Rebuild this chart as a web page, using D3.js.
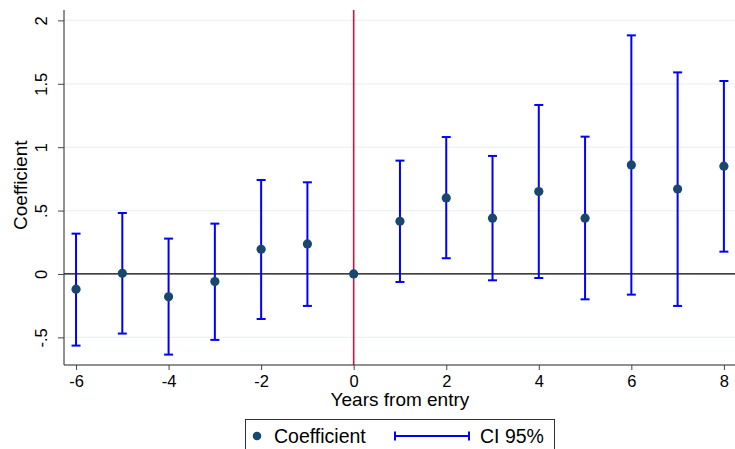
<!DOCTYPE html>
<html>
<head>
<meta charset="utf-8">
<script src="https://cdn.jsdelivr.net/npm/d3@7"></script>
<style>
  body { margin: 0; background: #fff; }
  svg { display: block; font-family: "Liberation Sans", Arial, sans-serif; }
</style>
</head>
<body>
<div id="chart"></div>
<script>
const years = [-6, -5, -4, -3, -2, -1, 0, 1, 2, 3, 4, 5, 6, 7, 8];
const coef = [-0.12, 0.005, -0.18, -0.06, 0.195, 0.237, 0, 0.415, 0.60, 0.44, 0.65, 0.44, 0.86, 0.67, 0.85];
const ciLow = [-0.565, -0.47, -0.636, -0.52, -0.355, -0.252, 0, -0.063, 0.124, -0.05, -0.032, -0.2, -0.163, -0.252, 0.176];
const ciHigh = [0.318, 0.481, 0.279, 0.397, 0.741, 0.723, 0, 0.894, 1.08, 0.931, 1.333, 1.083, 1.882, 1.59, 1.522];
const xTicks = [-6, -4, -2, 0, 2, 4, 6, 8];
const yTicks = [-0.5, 0, 0.5, 1, 1.5, 2];
const yTickLabels = ["-.5", "0", ".5", "1", "1.5", "2"];

const width = 735, height = 449;
const margin = {top: 10, right: 0, bottom: 84, left: 64};

const svg = d3.select("#chart").append("svg")
    .attr("width", width)
    .attr("height", height);

const x = d3.scaleLinear()
    .domain([-6.26, 8.24])
    .range([margin.left, width - margin.right]);

const y = d3.scaleLinear()
    .domain([-0.718, 2.082])
    .range([height - margin.bottom, margin.top]);

const rows = years.map((yr, i) => ({year: yr, b: coef[i], lo: ciLow[i], hi: ciHigh[i]}));

// grid lines
svg.append("g")
    .selectAll("line")
    .data(yTicks.filter(d => d !== 0))
    .join("line")
    .attr("x1", margin.left)
    .attr("x2", width - margin.right)
    .attr("y1", d => y(d))
    .attr("y2", d => y(d))
    .attr("stroke", "#eaf2f3")
    .attr("stroke-width", 1.2);

// zero line
svg.append("line")
    .attr("x1", margin.left)
    .attr("x2", width - margin.right)
    .attr("y1", y(0))
    .attr("y2", y(0))
    .attr("stroke", "#000")
    .attr("stroke-width", 1.2);

// entry year line
svg.append("line")
    .attr("x1", x(0))
    .attr("x2", x(0))
    .attr("y1", margin.top)
    .attr("y2", height - margin.bottom)
    .attr("stroke", "#d21243")
    .attr("stroke-width", 1.6);

// axes
const xAxis = d3.axisBottom(x)
    .tickValues(xTicks)
    .tickSize(5)
    .tickPadding(5)
    .tickFormat(d3.format("d"));

const gx = svg.append("g")
    .attr("transform", `translate(0,${height - margin.bottom})`)
    .call(xAxis);
gx.select(".domain").attr("d", `M${margin.left},0H${width}`).attr("stroke", "#222");
gx.selectAll(".tick line").attr("stroke", "#444");
gx.selectAll(".tick text").attr("font-size", 16.5).attr("fill", "#000")
    .text(d => d < 0 ? "-" + Math.abs(d) : d);

const yAxis = d3.axisLeft(y)
    .tickValues(yTicks)
    .tickSize(6)
    .tickFormat((d, i) => yTickLabels[i]);

const gy = svg.append("g")
    .attr("transform", `translate(${margin.left},0)`)
    .call(yAxis);
gy.select(".domain").attr("d", `M0,${margin.top}V${height - margin.bottom}`).attr("stroke", "#222");
gy.selectAll(".tick line").attr("stroke", "#444");
gy.selectAll(".tick text")
    .attr("font-size", 16.5)
    .attr("fill", "#000")
    .attr("x", null)
    .attr("dy", null)
    .attr("text-anchor", "middle")
    .attr("transform", "translate(-17,0) rotate(-90)");

// axis titles
svg.append("text")
    .attr("x", x(1))
    .attr("y", 406)
    .attr("text-anchor", "middle")
    .attr("font-size", 19)
    .text("Years from entry");

svg.append("text")
    .attr("transform", `translate(27,${y(0.7)}) rotate(-90)`)
    .attr("text-anchor", "middle")
    .attr("font-size", 19)
    .text("Coefficient");

// confidence intervals
const ci = svg.append("g").attr("stroke", "#0000ff").attr("stroke-width", 2);
const ciRows = rows.filter(d => d.hi !== d.lo);
ci.selectAll(".bar").data(ciRows).join("line")
    .attr("x1", d => x(d.year)).attr("x2", d => x(d.year))
    .attr("y1", d => y(d.lo)).attr("y2", d => y(d.hi));
ci.selectAll(".capt").data(ciRows).join("line").attr("class", "capt")
    .attr("x1", d => x(d.year) - 4.5).attr("x2", d => x(d.year) + 4.5)
    .attr("y1", d => y(d.hi)).attr("y2", d => y(d.hi));
ci.selectAll(".capb").data(ciRows).join("line").attr("class", "capb")
    .attr("x1", d => x(d.year) - 4.5).attr("x2", d => x(d.year) + 4.5)
    .attr("y1", d => y(d.lo)).attr("y2", d => y(d.lo));

// points
svg.append("g").selectAll("circle")
    .data(rows)
    .join("circle")
    .attr("cx", d => x(d.year))
    .attr("cy", d => y(d.b))
    .attr("r", 4.6)
    .attr("fill", "#1a476f");

// legend
const lg = svg.append("g");
lg.append("rect")
    .attr("x", 245.5).attr("y", 419.5)
    .attr("width", 309).attr("height", 40)
    .attr("fill", "#fff").attr("stroke", "#333").attr("stroke-width", 1);
lg.append("circle").attr("cx", 257).attr("cy", 436).attr("r", 4.3).attr("fill", "#1a476f");
lg.append("text").attr("x", 274).attr("y", 443).attr("font-size", 19.5).text("Coefficient");
lg.append("line").attr("x1", 395).attr("x2", 469).attr("y1", 436).attr("y2", 436)
    .attr("stroke", "#0000ff").attr("stroke-width", 2);
[395, 469].forEach(cx => lg.append("line")
    .attr("x1", cx).attr("x2", cx).attr("y1", 431.5).attr("y2", 440.5)
    .attr("stroke", "#0000ff").attr("stroke-width", 2));
lg.append("text").attr("x", 480).attr("y", 443).attr("font-size", 19.5).text("CI 95%");
</script>
</body>
</html>
